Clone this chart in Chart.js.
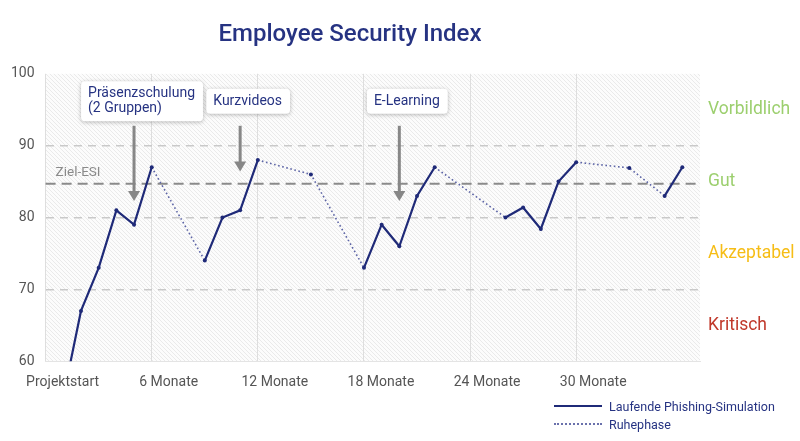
<!DOCTYPE html>
<html>
<head>
<meta charset="utf-8">
<script src="https://cdn.jsdelivr.net/npm/chart.js@4"></script>
<style>
  body { margin: 0; background: #fff; font-family: Roboto, sans-serif; }
  #wrap { position: relative; width: 800px; height: 441px; }
  #legend { position: absolute; left: 554px; top: 397px; font-size: 12.5px; color: #263382; }
  .row { display: flex; align-items: center; height: 18px; }
  .sym { width: 48px; margin-right: 7px; }
  .solid { border-top: 2.5px solid #1f2a78; }
  .dot { border-top: 2px dotted #6a71ac; }
</style>
</head>
<body>
<div id="wrap">
  <canvas id="esiChart" width="800" height="441"></canvas>
  <div id="legend">
    <div class="row"><span class="sym solid"></span>Laufende Phishing-Simulation</div>
    <div class="row"><span class="sym dot"></span>Ruhephase</div>
  </div>
</div>
<script>
// Monate seit Projektstart und ESI-Werte
const months = [1, 2, 3, 4, 5, 6, 9, 10, 11, 12, 15, 18, 19, 20, 21, 22, 26, 27, 28, 29, 30, 33, 35, 36];
const values = [55, 67, 73, 81, 79, 87, 74, 80, 81, 88, 86, 73, 79, 76, 83, 87, 80, 81.4, 78.4, 85, 87.7, 86.9, 83, 87];
// true = Segment ab diesem Punkt ist eine Ruhephase
const restPhase = [false, false, false, false, false, true, false, false, false, true, true, false, false, false, false, true, false, false, false, false, true, true, false];
const xTickLabels = ['Projektstart', '6 Monate', '12 Monate', '18 Monate', '24 Monate', '30 Monate', ''];
const targetEsi = 84.7;
const bandNames = ['Vorbildlich', 'Gut', 'Akzeptabel', 'Kritisch'];
const bandCenters = [95, 85, 75, 65];
const bandColors = ['#9ccf6e', '#9ccf6e', '#f6bd16', '#c0392b'];
const annoTexts = [['Präsenzschulung', '(2 Gruppen)'], ['Kurzvideos'], ['E-Learning']];
const annoMonths = [5, 11, 20];
const annoTips = [82.3, 86.4, 82.3];

Chart.defaults.font.family = 'Roboto, sans-serif';

function hatchPattern(ctx) {
    const c = document.createElement('canvas');
    c.width = 4; c.height = 4;
    const p = c.getContext('2d');
    p.fillStyle = '#fcfcfc';
    p.fillRect(0, 0, 4, 4);
    p.strokeStyle = '#eaeaea';
    p.lineWidth = 1;
    p.beginPath();
    p.moveTo(-1, -1); p.lineTo(5, 5);
    p.moveTo(3, -1); p.lineTo(5, 1);
    p.moveTo(-1, 3); p.lineTo(1, 5);
    p.stroke();
    return ctx.createPattern(c, 'repeat');
}

const decor = {
    id: 'decor',
    beforeDraw(chart) {
        const { ctx, chartArea: a } = chart;
        ctx.save();
        ctx.fillStyle = hatchPattern(ctx);
        ctx.fillRect(a.left, a.top, a.right - a.left, a.bottom - a.top);
        ctx.restore();
    },
    beforeDatasetsDraw(chart) {
        const { ctx, chartArea: a, scales } = chart;
        const y = scales.y.getPixelForValue(targetEsi);
        ctx.save();
        ctx.strokeStyle = '#8a8a8a';
        ctx.lineWidth = 2;
        ctx.setLineDash([10, 6]);
        ctx.beginPath();
        ctx.moveTo(a.left, y); ctx.lineTo(a.right, y);
        ctx.stroke();
        ctx.fillStyle = '#8a8a8a';
        ctx.font = '13.5px Roboto';
        ctx.textBaseline = 'alphabetic';
        ctx.fillText('Ziel-ESI', a.left + 10, y - 8);
        ctx.restore();
    },
    afterDatasetsDraw(chart) {
        const { ctx, chartArea: a, scales } = chart;
        ctx.save();
        // Bewertungsbereiche rechts
        ctx.font = '17.5px Roboto';
        ctx.textBaseline = 'middle';
        bandNames.forEach((name, i) => {
            ctx.fillStyle = bandColors[i];
            ctx.fillText(name, a.right + 8, scales.y.getPixelForValue(bandCenters[i]));
        });
        // Massnahmen mit Pfeilen
        annoTexts.forEach((lines, i) => {
            const x = scales.x.getPixelForValue(annoMonths[i]);
            const tip = scales.y.getPixelForValue(annoTips[i]);
            const y0 = a.top + 52;
            ctx.strokeStyle = '#878787';
            ctx.fillStyle = '#878787';
            ctx.lineWidth = 3;
            ctx.setLineDash([]);
            ctx.beginPath();
            ctx.moveTo(x, y0); ctx.lineTo(x, tip - 8);
            ctx.stroke();
            ctx.beginPath();
            ctx.moveTo(x - 6, tip - 10); ctx.lineTo(x + 6, tip - 10); ctx.lineTo(x, tip);
            ctx.closePath(); ctx.fill();

            ctx.font = '14px Roboto';
            const w = Math.max(...lines.map(t => ctx.measureText(t).width)) + 15;
            const h = lines.length * 15 + 10;
            const cx = x + 8;
            const bx = cx - w / 2, by = a.top + 27.5 - h / 2;
            ctx.save();
            ctx.shadowColor = 'rgba(0,0,0,0.28)';
            ctx.shadowBlur = 4;
            ctx.shadowOffsetY = 1;
            ctx.fillStyle = '#fff';
            ctx.beginPath();
            ctx.roundRect(bx, by, w, h, 4);
            ctx.fill();
            ctx.restore();
            ctx.fillStyle = '#263382';
            ctx.textBaseline = 'middle';
            lines.forEach((t, j) => ctx.fillText(t, bx + 7, by + 12.5 + j * 15));
        });
        ctx.restore();
    }
};

const ctx = document.getElementById('esiChart').getContext('2d');
const chart = new Chart(ctx, {
    type: 'line',
    data: {
        datasets: [{
            data: months.map((m, i) => ({ x: m, y: values[i] })),
            borderColor: '#1f2a78',
            borderWidth: 2.2,
            pointRadius: 2,
            pointBorderWidth: 0,
            pointBackgroundColor: '#1f2a78',
            tension: 0,
            segment: {
                borderDash: c => restPhase[c.p0DataIndex] ? [1.6, 2.6] : undefined,
                borderWidth: c => restPhase[c.p0DataIndex] ? 1.6 : 2.2,
                borderColor: c => restPhase[c.p0DataIndex] ? '#5c64a6' : '#1f2a78'
            }
        }]
    },
    options: {
        responsive: false,
        animation: false,
        layout: { padding: { left: 0, right: 100, top: 0, bottom: 44 } },
        plugins: {
            legend: { display: false },
            tooltip: { enabled: false },
            title: {
                display: true,
                text: 'Employee Security Index',
                color: '#263382',
                font: { size: 24, weight: '500' },
                padding: { top: 21, bottom: 24 }
            }
        },
        scales: {
            x: {
                type: 'linear',
                min: 0,
                max: 37,
                afterBuildTicks: s => { s.ticks = s.ticks.filter(t => t.value % 6 === 0); },
                ticks: {
                    stepSize: 6,
                    color: '#555',
                    font: { size: 14 },
                    labelOffset: 17,
                    padding: 6,
                    maxRotation: 0,
                    callback: v => xTickLabels[v / 6]
                },
                grid: { color: '#dedede', drawTicks: true, tickLength: 7, tickColor: 'transparent' },
                border: { display: true, color: '#e4e4e4' }
            },
            y: {
                min: 60,
                max: 100,
                ticks: { stepSize: 10, color: '#555', font: { size: 14 }, padding: 11 },
                grid: {
                    drawTicks: false,
                    lineWidth: 1.5,
                    color: c => (c.tick.value === 100 || c.tick.value === 60) ? 'transparent' : '#c9c9c9'
                },
                border: { display: false, dash: [8, 6] }
            }
        }
    },
    plugins: [decor]
});
</script>
</body>
</html>
